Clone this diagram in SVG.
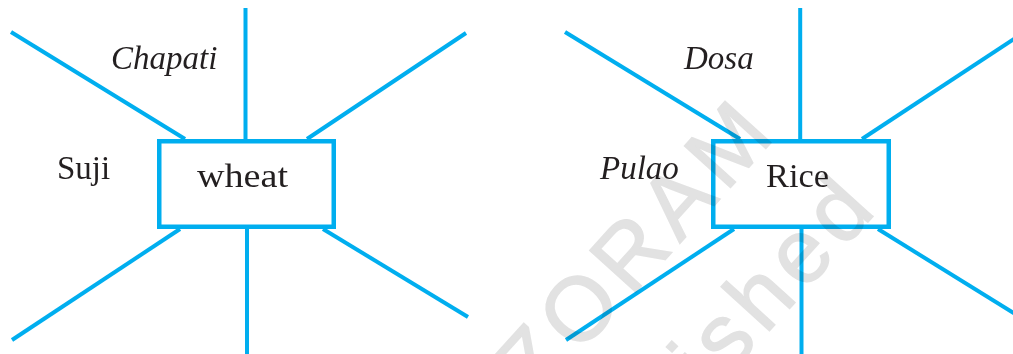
<svg xmlns="http://www.w3.org/2000/svg" width="1013" height="354" viewBox="0 0 1013 354">
<style>
.ln{stroke:#00aeef;stroke-width:4;fill:none;stroke-linecap:butt}
.box{stroke:#00aeef;stroke-width:4.5;fill:#ffffff}
.lbl{font-family:"Liberation Serif","Times New Roman",serif;font-size:33px;fill:#231f20}
.it{font-style:italic}
.wm{font-family:"Liberation Sans",Arial,sans-serif;font-size:90px;fill:#e2e2e2;stroke:#e2e2e2;stroke-width:1.5;letter-spacing:8px}
</style>
<rect width="1013" height="354" fill="#ffffff"/>
<g id="connectors">
<line class="ln" x1="11" y1="32" x2="185" y2="139"/>
<line class="ln" x1="245.5" y1="8" x2="245.5" y2="139"/>
<line class="ln" x1="466" y1="33" x2="307" y2="139"/>
<line class="ln" x1="180" y1="229" x2="12" y2="340"/>
<line class="ln" x1="247" y1="229" x2="247" y2="354"/>
<line class="ln" x1="323" y1="229" x2="468" y2="317"/>
<line class="ln" x1="565" y1="32" x2="740" y2="139"/>
<line class="ln" x1="800.2" y1="8" x2="800.2" y2="139"/>
<line class="ln" x1="862" y1="139" x2="1020" y2="35"/>
<line class="ln" x1="734" y1="229" x2="566" y2="340"/>
<line class="ln" x1="801.5" y1="229" x2="801.5" y2="354"/>
<line class="ln" x1="878" y1="229" x2="1020" y2="317"/>
</g>
<g id="node-wheat">
<rect class="box" x="159.25" y="141.25" width="174.5" height="85.5"/>
<text class="lbl" x="197" y="187" textLength="91" lengthAdjust="spacingAndGlyphs">wheat</text>
</g>
<g id="node-rice">
<rect class="box" x="713.25" y="141.25" width="175.5" height="85.5"/>
<text class="lbl" x="766" y="187" textLength="63" lengthAdjust="spacingAndGlyphs">Rice</text>
</g>
<g id="label-chapati"><text class="lbl it" x="111" y="69">Chapati</text></g>
<g id="label-suji"><text class="lbl" x="57" y="179">Suji</text></g>
<g id="label-dosa"><text class="lbl it" x="684" y="69">Dosa</text></g>
<g id="label-pulao"><text class="lbl it" x="600" y="179">Pulao</text></g>
<g id="watermark" style="mix-blend-mode:multiply">
<text class="wm" transform="translate(536,402) rotate(-47.8)">ZORAM</text>
<text class="wm" transform="translate(692,416) rotate(-47.8)">lished</text>
</g>
</svg>
